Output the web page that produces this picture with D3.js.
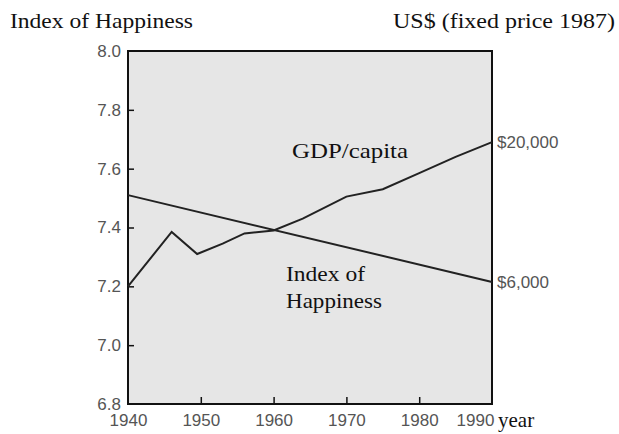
<!DOCTYPE html>
<html>
<head>
<meta charset="utf-8">
<script src="https://cdn.jsdelivr.net/npm/d3@7"></script>
<style>
  body { margin: 0; background: #fff; }
  svg text { font-family: "Liberation Sans", Arial, sans-serif; }
  .serif { font-family: "Liberation Serif", "Times New Roman", serif; fill: #111; }
</style>
</head>
<body>
<svg id="chart" width="619" height="434"></svg>
<script>
// GDP per capita, drawn on the happiness scale (right axis only labels the ends)
const gdpYears = [1940, 1946, 1949.5, 1953, 1956, 1960, 1964, 1970, 1975, 1980, 1985, 1990]
const gdpValues = [7.20, 7.385, 7.31, 7.345, 7.38, 7.39, 7.43, 7.505, 7.53, 7.585, 7.64, 7.69]

const happyYears = [1940, 1990]
const happyValues = [7.51, 7.215]

const yTicks = [6.8, 7.0, 7.2, 7.4, 7.6, 7.8, 8.0]
const xTicks = [1940, 1950, 1960, 1970, 1980, 1990]
const rightLabels = ["$20,000", "$6,000"]

const marginLeft = 128
const marginTop = 51
const plotWidth = 364
const plotHeight = 353

const svg = d3.select("#chart")

const x = d3.scaleLinear().domain([1940, 1990]).range([marginLeft, marginLeft + plotWidth])
const y = d3.scaleLinear().domain([6.8, 8.0]).range([marginTop + plotHeight, marginTop])

// grey plot area
svg.append("rect")
  .attr("x", x(1940))
  .attr("y", y(8.0))
  .attr("width", x(1990) - x(1940))
  .attr("height", y(6.8) - y(8.0))
  .attr("fill", "#e6e6e6")

// left axis, ticks pointing inwards
const yAxis = svg.append("g")
  .attr("transform", `translate(${x(1940)},0)`)
  .call(d3.axisLeft(y).tickValues(yTicks).tickFormat(d3.format(".1f")).tickSize(-6).tickPadding(7))
yAxis.select(".domain").remove()
yAxis.selectAll("line").attr("stroke", "#111").attr("stroke-width", 1.5)
yAxis.selectAll("text").attr("font-size", 17).attr("fill", "#555")
yAxis.selectAll(".tick").filter(d => d == 6.8 || d == 8.0).select("line").remove()

// bottom axis
const xAxis = svg.append("g")
  .attr("transform", `translate(0,${y(6.8)})`)
  .call(d3.axisBottom(x).tickValues(xTicks).tickFormat(d3.format("d")).tickSize(-7).tickPadding(10))
xAxis.select(".domain").remove()
xAxis.selectAll("line").attr("stroke", "#111").attr("stroke-width", 1.5)
xAxis.selectAll("text").attr("font-size", 17).attr("fill", "#555")
xAxis.selectAll(".tick").filter(d => d == 1940 || d == 1990).select("line").remove()
// last year label sits left of the corner, leaving room for "year"
xAxis.selectAll(".tick").filter(d => d == 1990).select("text").attr("dx", -17)

// frame
svg.append("rect")
  .attr("x", x(1940))
  .attr("y", y(8.0))
  .attr("width", x(1990) - x(1940))
  .attr("height", y(6.8) - y(8.0))
  .attr("fill", "none")
  .attr("stroke", "#111")
  .attr("stroke-width", 2)

const line = d3.line().x(d => x(d[0])).y(d => y(d[1]))

svg.append("path")
  .datum(d3.zip(gdpYears, gdpValues))
  .attr("d", line)
  .attr("fill", "none")
  .attr("stroke", "#222")
  .attr("stroke-width", 2)

svg.append("path")
  .datum(d3.zip(happyYears, happyValues))
  .attr("d", line)
  .attr("fill", "none")
  .attr("stroke", "#222")
  .attr("stroke-width", 2)

// right end labels
const ends = [gdpValues[gdpValues.length - 1], happyValues[happyValues.length - 1]]
svg.selectAll(".endlabel")
  .data(rightLabels)
  .enter()
  .append("text")
  .attr("class", "endlabel")
  .attr("x", x(1990) + 5)
  .attr("y", (d, i) => y(ends[i]))
  .attr("dy", "0.35em")
  .attr("font-size", 17)
  .attr("fill", "#555")
  .text(d => d)

// titles and annotations
svg.append("text").attr("class", "serif")
  .attr("x", 10).attr("y", 28)
  .attr("font-size", 21)
  .attr("textLength", 183).attr("lengthAdjust", "spacingAndGlyphs")
  .text("Index of Happiness")

svg.append("text").attr("class", "serif")
  .attr("x", 393).attr("y", 28)
  .attr("font-size", 21)
  .attr("textLength", 222).attr("lengthAdjust", "spacingAndGlyphs")
  .text("US$ (fixed price 1987)")

svg.append("text").attr("class", "serif")
  .attr("x", x(1990) + 6).attr("y", 427)
  .attr("font-size", 21)
  .text("year")

svg.append("text").attr("class", "serif")
  .attr("x", 292).attr("y", 158)
  .attr("font-size", 21)
  .attr("textLength", 116).attr("lengthAdjust", "spacingAndGlyphs")
  .text("GDP/capita")

svg.append("text").attr("class", "serif")
  .attr("x", 286).attr("y", 281)
  .attr("font-size", 21)
  .attr("textLength", 79).attr("lengthAdjust", "spacingAndGlyphs")
  .text("Index of")

svg.append("text").attr("class", "serif")
  .attr("x", 286).attr("y", 308)
  .attr("font-size", 21)
  .attr("textLength", 96).attr("lengthAdjust", "spacingAndGlyphs")
  .text("Happiness")
</script>
</body>
</html>
